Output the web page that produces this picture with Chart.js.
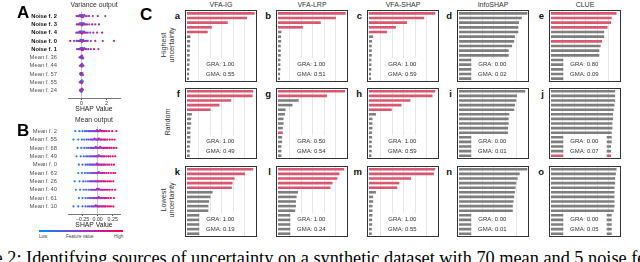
<!DOCTYPE html>
<html>
<head>
<meta charset="utf-8">
<script src="https://cdn.jsdelivr.net/npm/chart.js@4"></script>
<style>
  body { margin: 0; background: #fff; }
  #fig { position: relative; width: 640px; height: 262px; overflow: hidden;
         font-family: "Liberation Sans", Arial, sans-serif; color: #222; }
  .abs { position: absolute; white-space: nowrap; }
  .box { position: absolute; border: 1.3px solid #333; box-sizing: border-box; background: #fff; }
  .box canvas { position: absolute; left: 0; top: 0; }
  .big { font-weight: bold; font-size: 17px; line-height: 17px; color: #000; }
  .lt { font-weight: bold; font-size: 9.5px; line-height: 10px; color: #111; text-align: right; width: 10px; }
  .ttl { font-size: 7px; line-height: 8px; color: #333; text-align: center; width: 72px; }
  .rowlab { font-size: 7.2px; line-height: 7.6px; color: #333; text-align: center;
            transform: translate(-50%, -50%) rotate(-90deg); }
  #caption { font-family: "Liberation Serif", "Times New Roman", serif; font-size: 18.3px; line-height: 18px; color: #000; }
</style>
</head>
<body>
<div id="fig"></div>
<script>
// ---------- panel A: variance output (SHAP beeswarm) ----------
const varNames = ['Noise f. 2', 'Noise f. 3', 'Noise f. 4', 'Noise f. 0', 'Noise f. 1',
                  'Mean f. 36', 'Mean f. 44', 'Mean f. 57', 'Mean f. 55', 'Mean f. 24'];
const varShap = [
  [-0.4, -0.3, -0.22, -0.15, -0.1, -0.06, -0.03, 0, 0.02, 0.05, 0.08, 0.12, 0.16, 0.22, 0.3, 0.42, 0.6, 0.9, 1.3, 1.9],
  [-0.38, -0.27, -0.2, -0.14, -0.09, -0.05, -0.02, 0.01, 0.04, 0.07, 0.1, 0.14, 0.19, 0.25, 0.33, 0.45, 0.62, 0.85, 1.1, 1.4],
  [-0.42, -0.3, -0.21, -0.15, -0.1, -0.06, -0.03, 0, 0.03, 0.06, 0.1, 0.14, 0.2, 0.27, 0.36, 0.5, 0.7, 0.95, 1.25, 1.65],
  [-0.9, -0.6, -0.4, -0.28, -0.18, -0.12, -0.07, -0.03, 0, 0.03, 0.07, 0.12, 0.18, 0.26, 0.36, 0.5, 0.75, 1.1, 1.7, 2.6],
  [-0.36, -0.26, -0.18, -0.12, -0.08, -0.04, -0.01, 0.02, 0.05, 0.08, 0.12, 0.17, 0.23, 0.3, 0.4, 0.55, 0.75, 1.0, 1.35],
  [-0.16, -0.1, -0.06, -0.03, -0.01, 0.01, 0.03, 0.05, 0.08, 0.13],
  [-0.14, -0.09, -0.05, -0.02, 0, 0.02, 0.04, 0.07, 0.1, 0.15],
  [-0.12, -0.08, -0.05, -0.02, 0, 0.02, 0.05, 0.08, 0.12],
  [-0.15, -0.1, -0.06, -0.03, -0.01, 0.01, 0.03, 0.06, 0.1],
  [-0.13, -0.08, -0.05, -0.02, 0, 0.02, 0.04, 0.07, 0.11]
];
const varFeat = [
  [0.5, 0.1, 0.9, 0.3, 0.7, 0.2, 0.6, 0.4, 0.8, 0.1, 0.5, 0.9, 0.3, 0.7, 0.2, 0.6, 0.95, 0.4, 0.8, 0.3],
  [0.8, 0.2, 0.6, 0.4, 0.9, 0.1, 0.5, 0.7, 0.3, 0.85, 0.15, 0.55, 0.45, 0.75, 0.25, 0.65, 0.35, 0.9, 0.5, 0.7],
  [0.3, 0.7, 0.1, 0.9, 0.5, 0.2, 0.8, 0.4, 0.6, 0.95, 0.35, 0.65, 0.15, 0.85, 0.45, 0.55, 0.25, 0.75, 0.6, 0.9],
  [0.9, 0.4, 0.7, 0.2, 0.6, 0.85, 0.1, 0.5, 0.3, 0.75, 0.45, 0.15, 0.95, 0.35, 0.65, 0.55, 0.25, 0.8, 0.5, 0.7],
  [0.6, 0.3, 0.8, 0.1, 0.5, 0.9, 0.2, 0.7, 0.4, 0.65, 0.35, 0.85, 0.15, 0.55, 0.45, 0.75, 0.25, 0.95, 0.5],
  [0.2, 0.7, 0.4, 0.9, 0.5, 0.1, 0.6, 0.8, 0.3, 0.55],
  [0.6, 0.2, 0.8, 0.4, 0.1, 0.7, 0.5, 0.9, 0.3, 0.65],
  [0.4, 0.8, 0.2, 0.6, 0.9, 0.3, 0.5, 0.1, 0.7],
  [0.7, 0.3, 0.9, 0.5, 0.2, 0.6, 0.1, 0.8, 0.4],
  [0.5, 0.9, 0.1, 0.7, 0.3, 0.6, 0.8, 0.2, 0.4]
];

// ---------- panel B: mean output (SHAP beeswarm) ----------
const meanNames = ['Mean f. 2', 'Mean f. 55', 'Mean f. 68', 'Mean f. 49', 'Mean f. 0',
                   'Mean f. 63', 'Mean f. 26', 'Mean f. 40', 'Mean f. 61', 'Mean f. 10'];
const meanShap = [
  [-0.37, -0.3, -0.25, -0.21, -0.18, -0.15, -0.13, -0.11, -0.09, -0.07, -0.05, -0.04, -0.02, -0.01, 0, 0.01, 0.03, 0.04, 0.06, 0.08, 0.1, 0.12, 0.15, 0.19, 0.24, 0.31],
  [-0.4, -0.32, -0.26, -0.22, -0.18, -0.15, -0.12, -0.1, -0.08, -0.06, -0.05, -0.03, -0.02, 0, 0.01, 0.02, 0.04, 0.05, 0.07, 0.09, 0.11, 0.13, 0.16, 0.2, 0.24, 0.28],
  [-0.33, -0.27, -0.22, -0.18, -0.15, -0.12, -0.1, -0.08, -0.06, -0.04, -0.03, -0.01, 0, 0.01, 0.03, 0.04, 0.06, 0.08, 0.1, 0.12, 0.14, 0.17, 0.2, 0.23, 0.27, 0.31],
  [-0.35, -0.28, -0.23, -0.19, -0.16, -0.13, -0.11, -0.09, -0.07, -0.05, -0.03, -0.02, 0, 0.01, 0.02, 0.04, 0.06, 0.08, 0.1, 0.12, 0.15, 0.18, 0.21, 0.25, 0.29],
  [-0.31, -0.25, -0.2, -0.17, -0.14, -0.12, -0.1, -0.08, -0.06, -0.04, -0.02, -0.01, 0, 0.02, 0.03, 0.05, 0.07, 0.09, 0.11, 0.13, 0.16, 0.19, 0.23, 0.27],
  [-0.32, -0.26, -0.21, -0.17, -0.14, -0.11, -0.09, -0.07, -0.05, -0.03, -0.02, 0, 0.01, 0.02, 0.04, 0.06, 0.08, 0.1, 0.12, 0.15, 0.18, 0.22, 0.26, 0.29],
  [-0.38, -0.3, -0.24, -0.2, -0.16, -0.13, -0.11, -0.09, -0.07, -0.05, -0.03, -0.02, 0, 0.01, 0.03, 0.05, 0.07, 0.09, 0.11, 0.13, 0.16, 0.19, 0.22, 0.26],
  [-0.36, -0.29, -0.23, -0.19, -0.15, -0.12, -0.1, -0.08, -0.06, -0.04, -0.02, -0.01, 0.01, 0.02, 0.04, 0.06, 0.08, 0.1, 0.12, 0.14, 0.17, 0.2, 0.24, 0.29],
  [-0.31, -0.25, -0.2, -0.16, -0.13, -0.11, -0.09, -0.07, -0.05, -0.03, -0.02, 0, 0.01, 0.02, 0.04, 0.05, 0.07, 0.09, 0.11, 0.13, 0.15, 0.18, 0.22, 0.27],
  [-0.4, -0.32, -0.25, -0.2, -0.16, -0.13, -0.1, -0.08, -0.06, -0.04, -0.03, -0.01, 0, 0.01, 0.03, 0.05, 0.07, 0.09, 0.11, 0.13, 0.16, 0.19, 0.22, 0.26]
];
const meanFeat = [
  [0.05, 0.1, 0.2, 0.15, 0.3, 0.25, 0.35, 0.4, 0.3, 0.45, 0.5, 0.4, 0.55, 0.5, 0.6, 0.45, 0.65, 0.6, 0.7, 0.65, 0.75, 0.8, 0.85, 0.9, 0.95, 0.9],
  [0.1, 0.05, 0.2, 0.15, 0.3, 0.35, 0.25, 0.4, 0.45, 0.35, 0.5, 0.55, 0.45, 0.6, 0.5, 0.65, 0.6, 0.7, 0.75, 0.65, 0.8, 0.85, 0.75, 0.9, 0.95, 0.9],
  [0.15, 0.1, 0.25, 0.2, 0.35, 0.3, 0.4, 0.45, 0.35, 0.5, 0.45, 0.55, 0.6, 0.5, 0.65, 0.55, 0.7, 0.6, 0.75, 0.7, 0.8, 0.85, 0.8, 0.9, 0.95, 0.9],
  [0.05, 0.2, 0.15, 0.3, 0.25, 0.35, 0.4, 0.3, 0.45, 0.5, 0.4, 0.55, 0.5, 0.6, 0.55, 0.65, 0.6, 0.7, 0.75, 0.7, 0.8, 0.85, 0.9, 0.85, 0.95],
  [0.1, 0.2, 0.15, 0.3, 0.35, 0.25, 0.4, 0.45, 0.5, 0.4, 0.55, 0.5, 0.6, 0.65, 0.55, 0.7, 0.65, 0.75, 0.8, 0.7, 0.85, 0.9, 0.95, 0.9],
  [0.05, 0.15, 0.25, 0.2, 0.35, 0.3, 0.4, 0.45, 0.35, 0.5, 0.55, 0.45, 0.6, 0.55, 0.65, 0.7, 0.6, 0.75, 0.8, 0.7, 0.85, 0.9, 0.95, 0.85],
  [0.1, 0.2, 0.15, 0.3, 0.25, 0.4, 0.35, 0.45, 0.5, 0.4, 0.55, 0.6, 0.5, 0.65, 0.6, 0.7, 0.65, 0.75, 0.8, 0.75, 0.85, 0.9, 0.85, 0.95],
  [0.05, 0.1, 0.25, 0.2, 0.3, 0.35, 0.45, 0.4, 0.5, 0.45, 0.55, 0.5, 0.6, 0.65, 0.55, 0.7, 0.75, 0.65, 0.8, 0.85, 0.75, 0.9, 0.95, 0.9],
  [0.15, 0.05, 0.2, 0.3, 0.35, 0.25, 0.4, 0.45, 0.5, 0.4, 0.55, 0.6, 0.5, 0.65, 0.6, 0.7, 0.75, 0.65, 0.8, 0.75, 0.85, 0.9, 0.95, 0.9],
  [0.1, 0.15, 0.2, 0.3, 0.25, 0.35, 0.4, 0.45, 0.5, 0.4, 0.55, 0.5, 0.6, 0.65, 0.55, 0.7, 0.75, 0.65, 0.8, 0.85, 0.75, 0.9, 0.95, 0.9]
];

// ---------- panel C: feature importance bars (top 15 features per panel) ----------
const methods = ['VFA-IG', 'VFA-LRP', 'VFA-SHAP', 'InfoSHAP', 'CLUE'];
const groups = [['Highest', 'uncertainty'], ['Random'], ['Lowest', 'uncertainty']];
const letters = ['a', 'b', 'c', 'd', 'e', 'f', 'g', 'h', 'i', 'j', 'k', 'l', 'm', 'n', 'o'];
const impA = [0.98, 0.87, 0.59, 0.36, 0.30, 0.05, 0.045, 0.045, 0.04, 0.04, 0.04, 0.035, 0.035, 0.03, 0.03];
const impB = [0.98, 0.84, 0.62, 0.36, 0.05, 0.045, 0.045, 0.04, 0.04, 0.04, 0.035, 0.035, 0.035, 0.03, 0.03];
const impC = [0.96, 0.80, 0.55, 0.39, 0.26, 0.06, 0.045, 0.04, 0.04, 0.04, 0.035, 0.035, 0.035, 0.03, 0.03];
const impD = [0.99, 0.91, 0.87, 0.86, 0.86, 0.81, 0.80, 0.77, 0.72, 0.72, 0.70, 0.69, 0.68, 0.68, 0.67];
const impE = [0.95, 0.88, 0.87, 0.82, 0.77, 0.77, 0.74, 0.72, 0.70, 0.70, 0.68, 0.68, 0.67, 0.67, 0.66];
const impF = [0.96, 0.95, 0.64, 0.47, 0.34, 0.07, 0.06, 0.06, 0.05, 0.05, 0.05, 0.05, 0.04, 0.04, 0.04];
const impG = [0.97, 0.71, 0.30, 0.21, 0.11, 0.10, 0.08, 0.08, 0.07, 0.07, 0.06, 0.06, 0.05, 0.05, 0.05];
const impH = [0.96, 0.92, 0.60, 0.47, 0.33, 0.10, 0.05, 0.05, 0.05, 0.045, 0.045, 0.04, 0.04, 0.04, 0.035];
const impI = [0.96, 0.84, 0.83, 0.81, 0.80, 0.73, 0.72, 0.72, 0.71, 0.71, 0.69, 0.68, 0.68, 0.67, 0.67];
const impJ = [0.93, 0.93, 0.93, 0.92, 0.91, 0.90, 0.90, 0.89, 0.89, 0.88, 0.88, 0.88, 0.87, 0.87, 0.87];
const impK = [0.96, 0.84, 0.69, 0.66, 0.65, 0.37, 0.34, 0.32, 0.31, 0.31, 0.28, 0.28, 0.27, 0.27, 0.26];
const impL = [0.96, 0.89, 0.86, 0.79, 0.76, 0.29, 0.27, 0.26, 0.26, 0.25, 0.24, 0.24, 0.24, 0.23, 0.23];
const impM = [0.96, 0.94, 0.61, 0.44, 0.41, 0.10, 0.06, 0.06, 0.05, 0.05, 0.05, 0.045, 0.045, 0.04, 0.04];
const impN = [0.99, 0.88, 0.85, 0.83, 0.82, 0.81, 0.80, 0.79, 0.78, 0.78, 0.76, 0.75, 0.75, 0.74, 0.74];
const impO = [0.95, 0.94, 0.93, 0.93, 0.92, 0.92, 0.92, 0.92, 0.92, 0.91, 0.88, 0.88, 0.88, 0.88, 0.88];
// rank positions that are noise features (drawn red)
const noiseA = [0, 1, 2, 3, 4], noiseB = [0, 1, 2, 3], noiseC = [0, 1, 2, 3, 4];
const noiseD = [], noiseE = [0, 1, 2, 3, 6];
const noiseF = [0, 1, 2, 3, 4], noiseG = [0, 1, 9], noiseH = [0, 1, 2, 3, 4];
const noiseI = [], noiseJ = [14];
const noiseK = [0, 1, 2, 3, 4], noiseL = [0, 1, 2, 3, 4], noiseM = [0, 1, 2, 3, 4];
const noiseN = [], noiseO = [];
const gra = ['1.00', '1.00', '1.00', '0.00', '0.80', '1.00', '0.50', '1.00', '0.00', '0.00', '1.00', '1.00', '1.00', '0.00', '0.00'];
const gma = ['0.55', '0.51', '0.59', '0.02', '0.09', '0.49', '0.54', '0.59', '0.01', '0.07', '0.19', '0.24', '0.55', '0.01', '0.05'];

const imps = [impA, impB, impC, impD, impE, impF, impG, impH, impI, impJ, impK, impL, impM, impN, impO];
const noises = [noiseA, noiseB, noiseC, noiseD, noiseE, noiseF, noiseG, noiseH, noiseI, noiseJ, noiseK, noiseL, noiseM, noiseN, noiseO];

const RED = '#d8586f';
const GRAY = '#7e7e7e';
const fig = document.getElementById('fig');

function addText(html, cls, left, top, extra) {
  const d = document.createElement('div');
  d.className = 'abs ' + (cls || '');
  d.style.left = left + 'px';
  d.style.top = top + 'px';
  if (extra) Object.assign(d.style, extra);
  d.innerHTML = html;
  fig.appendChild(d);
  return d;
}

function featColor(v) {
  const stops = [[0, 138, 250], [150, 55, 205], [255, 0, 82]];
  const t = v * 2, i = Math.min(1, Math.floor(t)), f = t - i;
  const c = stops[i].map((s, k) => Math.round(s + (stops[i + 1][k] - s) * f));
  return `rgb(${c[0]},${c[1]},${c[2]})`;
}

// beeswarm stacking: points sharing a small x bin are spread up and down the row
function swarmOffsets(xs, binW, step) {
  const count = {};
  return xs.map(x => {
    const b = Math.round(x / binW);
    const k = count[b] = (count[b] || 0);
    count[b]++;
    const off = (k % 2 ? -1 : 1) * Math.ceil(k / 2) * step;
    return Math.max(-0.36, Math.min(0.36, off));
  });
}

function swarmChart(top, height, title, names, boldRows, shap, feat, xMin, xMax, tickVals, fmt) {
  const cv = document.createElement('canvas');
  cv.width = 124; cv.height = height;
  cv.style.position = 'absolute'; cv.style.left = '0px'; cv.style.top = top + 'px';
  fig.appendChild(cv);
  const pts = [], cols = [];
  const binW = (xMax - xMin) / 54 * 1.2;
  shap.forEach((row, r) => {
    const offs = swarmOffsets(row, binW, 0.12);
    row.forEach((x, i) => { pts.push({ x: x, y: r + offs[i] }); cols.push(featColor(feat[r][i])); });
  });
  new Chart(cv, {
    type: 'scatter',
    data: { datasets: [{ data: pts, pointBackgroundColor: cols, pointBorderWidth: 0, pointRadius: 1.1 }] },
    options: {
      responsive: false, animation: false, events: [],
      layout: { padding: { left: 0, right: 2, top: 0, bottom: 0 } },
      plugins: {
        legend: { display: false }, tooltip: { enabled: false },
        title: { display: true, text: title, fullSize: false, color: '#333',
                 font: { family: 'Liberation Sans', size: 6.8, weight: 'normal' }, padding: { top: 1, bottom: 2 } }
      },
      scales: {
        x: {
          min: xMin, max: xMax,
          afterBuildTicks: s => { s.ticks = tickVals.map(v => ({ value: v })); },
          afterFit: s => { s.height = 15; },
          ticks: { callback: fmt, color: '#333', padding: 0, autoSkip: false, maxRotation: 0,
                   font: { family: 'Liberation Sans', size: 5.3 } },
          grid: { color: c => (c.tick && c.tick.value === 0 ? '#bbbbbb' : 'rgba(0,0,0,0)'), tickColor: '#333', tickLength: 2, lineWidth: 0.8 },
          border: { display: true, color: '#555', width: 0.8 },
          title: { display: true, text: 'SHAP Value', color: '#222', padding: 0, font: { family: 'Liberation Sans', size: 6.8 } }
        },
        y: {
          min: -0.6, max: 9.9, reverse: true,
          afterBuildTicks: s => { s.ticks = names.map((n, i) => ({ value: i })); },
          afterFit: s => { s.width = 68; },
          ticks: {
            callback: v => names[v], padding: 3, autoSkip: false,
            color: c => (c.tick && c.tick.value < boldRows) ? '#111' : '#555',
            font: c => ({ family: 'Liberation Sans', size: 5.8, weight: (c.tick && c.tick.value < boldRows) ? 'bold' : 'normal' })
          },
          grid: { display: false },
          border: { display: false }
        }
      }
    }
  });
}

swarmChart(0, 113, 'Variance output', varNames, 5, varShap, varFeat, -1.08, 3.08, [0, 2], v => String(v));
swarmChart(115, 114, 'Mean output', meanNames, 0, meanShap, meanFeat, -0.49, 0.37, [-0.25, 0, 0.25],
           v => (v < 0 ? '\u2212' : '') + Math.abs(v).toFixed(2));

addText('A', 'big', 17, 4);
addText('B', 'big', 17, 122);

// colour bar for feature value
addText('', '', 39, 230, { width: '84px', height: '1.6px', background: 'linear-gradient(to right, #008bfb, #9637cd, #ff0052)' });
addText('Low', '', 39, 234, { fontSize: '4.5px', color: '#444' });
addText('Feature value', '', 66, 234, { fontSize: '4.5px', color: '#444' });
addText('High', '', 114, 234, { fontSize: '4.5px', color: '#444' });

// ---------- panel C layout ----------
const colLeft = [185, 276, 367, 457, 549];
const rowTop = [10, 88, 166];
const boxH = [72, 71, 71];
const BOX_W = 72;

addText('C', 'big', 140, 6);
methods.forEach((m, c) => addText(m, 'ttl', colLeft[c], 1));
const rowCenter = [45, 122, 200];
groups.forEach((g, r) => addText(g.join('<br>'), 'rowlab', 168, rowCenter[r]));

const notePlugin = {
  id: 'note',
  afterDatasetsDraw(chart, args, opts) {
    const { ctx, width, height } = chart;
    ctx.save();
    ctx.fillStyle = '#fff';
    ctx.fillRect(width * 0.19, height * 0.67, width * 0.62, height * 0.33);
    ctx.fillStyle = '#333';
    ctx.font = '6px "Liberation Sans"';
    ctx.textAlign = 'center';
    ctx.textBaseline = 'middle';
    ctx.fillText('GRA: ' + opts.gra, width * 0.49, height * 0.765);
    ctx.fillText('GMA: ' + opts.gma, width * 0.49, height * 0.905);
    ctx.restore();
  }
};

imps.forEach((vals, p) => {
  const r = Math.floor(p / 5), c = p % 5;
  const box = document.createElement('div');
  box.className = 'box';
  box.style.left = colLeft[c] + 'px';
  box.style.top = rowTop[r] + 'px';
  box.style.width = BOX_W + 'px';
  box.style.height = boxH[r] + 'px';
  fig.appendChild(box);
  const cv = document.createElement('canvas');
  cv.width = BOX_W - 2; cv.height = boxH[r] - 2;
  box.appendChild(cv);
  addText(letters[p], 'lt', colLeft[c] - 15, rowTop[r] + 1);

  new Chart(cv, {
    type: 'bar',
    data: {
      labels: vals.map((v, i) => i + 1),
      datasets: [{
        data: vals,
        backgroundColor: vals.map((v, i) => noises[p].includes(i) ? RED : GRAY),
        barPercentage: 0.56, categoryPercentage: 1
      }]
    },
    options: {
      indexAxis: 'y', responsive: false, animation: false, events: [],
      layout: { padding: { left: 1, right: 0, top: 0, bottom: 0 } },
      plugins: { legend: { display: false }, tooltip: { enabled: false }, note: { gra: gra[p], gma: gma[p] } },
      scales: {
        x: {
          min: 0, max: 1,
          afterBuildTicks: s => { s.ticks = [1, 2, 3, 4, 5].map(v => ({ value: v / 6 })); },
          afterFit: s => { s.height = 0; },
          ticks: { display: false },
          grid: { color: '#e6e6e6', lineWidth: 1, drawTicks: false },
          border: { display: false }
        },
        y: { display: false }
      }
    },
    plugins: [notePlugin]
  });
});

// caption below the figure (cut by the crop)
addText('Figure 2: Identifying sources of uncertainty on a synthetic dataset with 70 mean and 5 noise features.', '', -45, 249, {}).id = 'caption';
</script>
</body>
</html>
